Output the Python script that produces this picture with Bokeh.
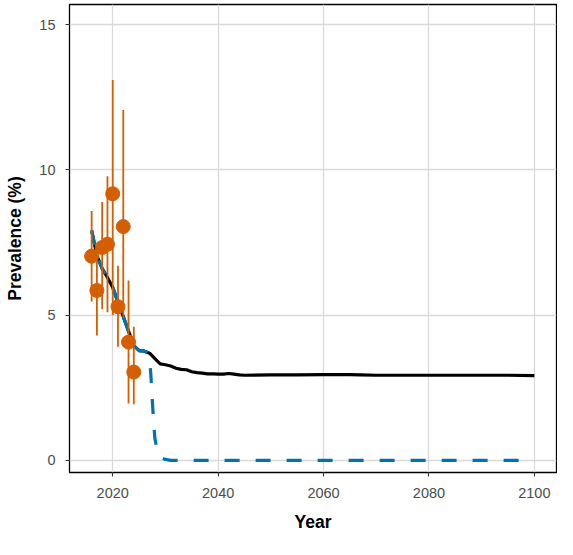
from bokeh.plotting import figure
from bokeh.models import ColumnDataSource, Range1d, FixedTicker
from bokeh.embed import file_html
from bokeh.resources import INLINE

# Observed survey prevalence (orange points with error bars)
obs_year = [2016, 2017, 2018, 2019, 2020, 2021, 2022, 2023, 2024]
obs_value = [7.03, 5.85, 7.33, 7.44, 9.18, 5.29, 8.05, 4.07, 3.04]
obs_lower = [5.47, 4.30, 5.20, 5.10, 5.00, 3.91, 4.90, 1.96, 1.93]
obs_upper = [8.59, 7.40, 8.90, 9.78, 13.10, 6.70, 12.07, 6.19, 4.60]

# Baseline model projection (black solid line)
base_year = [2016, 2017, 2018, 2019, 2020, 2021, 2022, 2023, 2024, 2025,
             2026, 2027, 2028, 2029, 2030, 2031, 2032, 2033, 2034, 2035,
             2036, 2037, 2038, 2039, 2040, 2041, 2042, 2043, 2044, 2045,
             2050, 2055, 2060, 2065, 2067, 2070, 2075, 2080, 2085, 2090,
             2095, 2100]
base_value = [7.92, 7.05, 6.60, 6.30, 5.95, 5.45, 4.95, 4.45, 3.95, 3.78,
              3.76, 3.69, 3.50, 3.32, 3.29, 3.25, 3.17, 3.13, 3.12, 3.05,
              3.02, 3.00, 2.98, 2.98, 2.97, 2.97, 2.99, 2.97, 2.94, 2.93,
              2.94, 2.94, 2.95, 2.95, 2.94, 2.93, 2.93, 2.93, 2.93, 2.93,
              2.93, 2.92]

# Intervention scenario (blue dashed line)
int_year = [2016, 2017, 2018, 2019, 2020, 2021, 2022, 2023, 2024, 2025,
            2026, 2026.5, 2027, 2027.25, 2027.5, 2027.75, 2028, 2028.5,
            2029, 2029.5, 2030, 2031, 2100]
int_value = [7.92, 7.05, 6.60, 6.30, 5.95, 5.45, 4.95, 4.45, 3.95, 3.78,
             3.76, 3.72, 3.50, 2.90, 2.10, 1.35, 0.75, 0.30,
             0.12, 0.06, 0.03, 0.0, 0.0]

x_ticks = [2020, 2040, 2060, 2080, 2100]
y_ticks = [0, 5, 10, 15]

FONT = "Liberation Sans"

p = figure(width=557, height=539, output_backend="svg", toolbar_location=None,
           x_range=Range1d(2011.8, 2104.2), y_range=Range1d(-0.42, 15.7),
           min_border_left=69, min_border_right=1, min_border_top=4,
           min_border_bottom=67)

p.background_fill_color = "white"
p.border_fill_color = "white"
p.outline_line_color = "black"
p.outline_line_width = 1.3

for ax in (p.xaxis[0], p.yaxis[0]):
    ax.axis_line_color = None
    ax.major_tick_line_color = "#333333"
    ax.major_tick_line_width = 1.1
    ax.major_tick_out = 4
    ax.major_tick_in = 0
    ax.minor_tick_line_color = None
    ax.major_label_text_font = FONT
    ax.major_label_text_font_size = "14.5px"
    ax.major_label_text_color = "#4D4D4D"
    ax.axis_label_text_font = FONT
    ax.axis_label_text_font_style = "bold"
    ax.axis_label_text_font_size = "17.5px"
    ax.axis_label_text_color = "black"

p.xaxis.ticker = FixedTicker(ticks=x_ticks)
p.yaxis.ticker = FixedTicker(ticks=y_ticks)
p.xaxis.axis_label = "Year"
p.yaxis.axis_label = "Prevalence (%)"
p.xaxis.major_label_standoff = 11
p.xaxis.axis_label_standoff = 11
p.yaxis.major_label_standoff = 10
p.yaxis.axis_label_standoff = 11

p.xgrid.ticker = FixedTicker(ticks=x_ticks)
p.ygrid.ticker = FixedTicker(ticks=y_ticks)
for g in (p.xgrid[0], p.ygrid[0]):
    g.grid_line_color = "#DADADA"
    g.grid_line_width = 1.3
    g.minor_grid_line_color = None

p.line(base_year, base_value, line_color="black", line_width=3.2,
       line_join="round")
p.line(int_year, int_value, line_color="#0072B2", line_width=3.2,
       line_dash="15 16")

obs = ColumnDataSource(dict(x=obs_year, y=obs_value, lo=obs_lower, hi=obs_upper))
p.segment(x0="x", y0="lo", x1="x", y1="hi", source=obs,
          line_color="#D55E00", line_width=1.8)
p.scatter(x="x", y="y", source=obs, size=14, fill_color="#D55E00",
          line_color="#D55E00")

open("out.html", "w").write(file_html(p, INLINE))
